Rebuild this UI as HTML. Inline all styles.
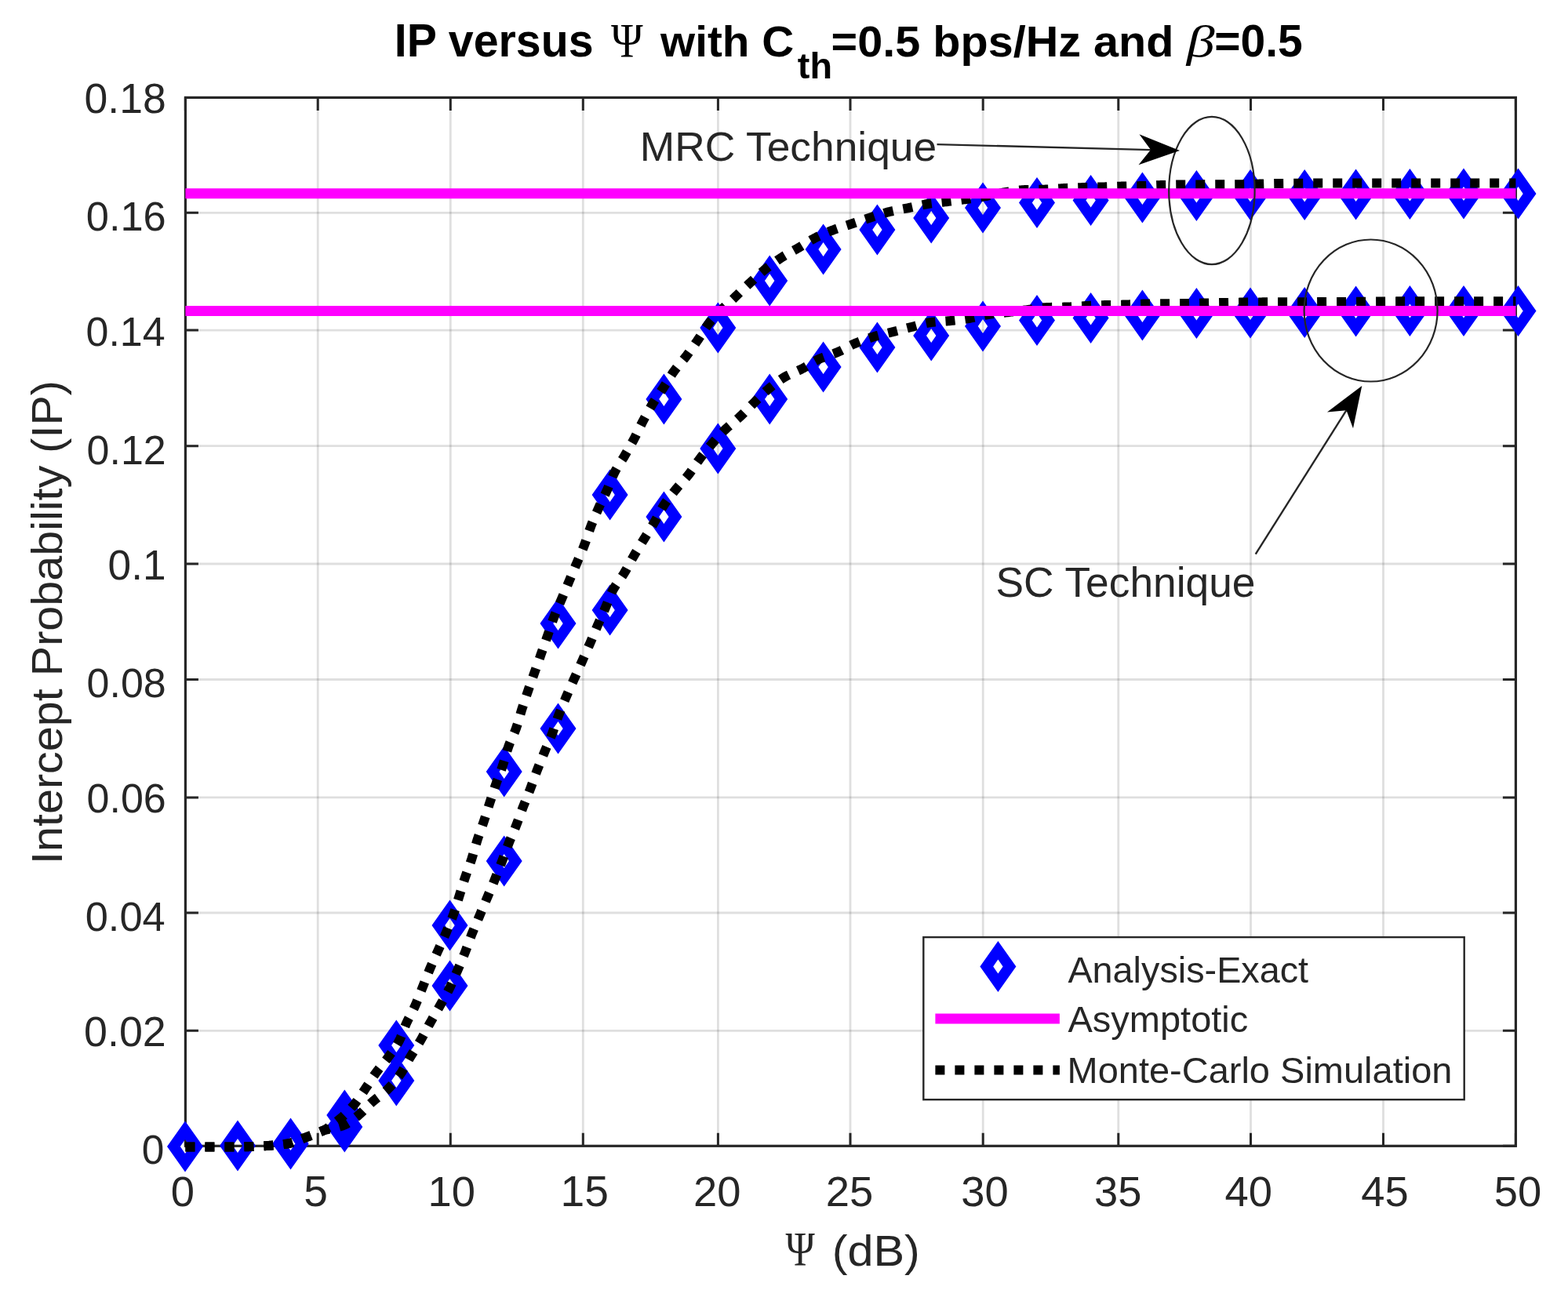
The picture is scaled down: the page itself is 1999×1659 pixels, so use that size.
<!DOCTYPE html><html><head><meta charset="utf-8"><title>IP versus Psi</title><style>html,body{margin:0;padding:0;background:#fff;}svg{display:block;}</style></head><body>
<svg width="1999" height="1659" viewBox="0 0 1999 1659">
<rect width="1999" height="1659" fill="#fff"/>
<path d="M405.2 124.4V1461.3M574.3 124.4V1461.3M743.3 124.4V1461.3M915.4 124.4V1461.3M1084.0 124.4V1461.3M1253.2 124.4V1461.3M1425.8 124.4V1461.3M1594.5 124.4V1461.3M1763.5 124.4V1461.3" stroke="#262626" stroke-opacity="0.15" stroke-width="2.8" fill="none"/>
<path d="M236.4 1314.3H1932.4M236.4 1164.0H1932.4M236.4 1016.9H1932.4M236.4 866.5H1932.4M236.4 719.0H1932.4M236.4 568.7H1932.4M236.4 421.1H1932.4M236.4 271.3H1932.4" stroke="#262626" stroke-opacity="0.15" stroke-width="2.8" fill="none"/>
<path d="M236.4 1461.3V1444.8M236.4 124.4V140.9M405.2 1461.3V1444.8M405.2 124.4V140.9M574.3 1461.3V1444.8M574.3 124.4V140.9M743.3 1461.3V1444.8M743.3 124.4V140.9M915.4 1461.3V1444.8M915.4 124.4V140.9M1084.0 1461.3V1444.8M1084.0 124.4V140.9M1253.2 1461.3V1444.8M1253.2 124.4V140.9M1425.8 1461.3V1444.8M1425.8 124.4V140.9M1594.5 1461.3V1444.8M1594.5 124.4V140.9M1763.5 1461.3V1444.8M1763.5 124.4V140.9M1932.4 1461.3V1444.8M1932.4 124.4V140.9M236.4 1461.3H252.9M1932.4 1461.3H1915.9M236.4 1314.3H252.9M1932.4 1314.3H1915.9M236.4 1164.0H252.9M1932.4 1164.0H1915.9M236.4 1016.9H252.9M1932.4 1016.9H1915.9M236.4 866.5H252.9M1932.4 866.5H1915.9M236.4 719.0H252.9M1932.4 719.0H1915.9M236.4 568.7H252.9M1932.4 568.7H1915.9M236.4 421.1H252.9M1932.4 421.1H1915.9M236.4 271.3H252.9M1932.4 271.3H1915.9M236.4 124.4H252.9M1932.4 124.4H1915.9" stroke="#262626" stroke-width="3" fill="none"/>
<rect x="236.4" y="124.4" width="1696.0" height="1336.9" stroke="#262626" stroke-width="3.2" fill="none"/>
<path d="M236.0 1429.5L259.0 1462.0L236.0 1494.5L213.0 1462.0ZM236.0 1453.0L229.8 1462.0L236.0 1471.0L242.2 1462.0ZM303.0 1428.5L326.0 1461.0L303.0 1493.5L280.0 1461.0ZM303.0 1452.0L296.8 1461.0L303.0 1470.0L309.2 1461.0ZM370.5 1426.5L393.5 1459.0L370.5 1491.5L347.5 1459.0ZM370.5 1450.0L364.3 1459.0L370.5 1468.0L376.7 1459.0ZM439.3 1404.5L462.3 1437.0L439.3 1469.5L416.3 1437.0ZM439.3 1428.0L433.1 1437.0L439.3 1446.0L445.5 1437.0ZM505.3 1345.5L528.3 1378.0L505.3 1410.5L482.3 1378.0ZM505.3 1369.0L499.1 1378.0L505.3 1387.0L511.5 1378.0ZM573.5 1224.5L596.5 1257.0L573.5 1289.5L550.5 1257.0ZM573.5 1248.0L567.3 1257.0L573.5 1266.0L579.7 1257.0ZM642.7 1065.5L665.7 1098.0L642.7 1130.5L619.7 1098.0ZM642.7 1089.0L636.5 1098.0L642.7 1107.0L648.9 1098.0ZM711.5 896.5L734.5 929.0L711.5 961.5L688.5 929.0ZM711.5 920.0L705.3 929.0L711.5 938.0L717.7 929.0ZM777.6 745.5L800.6 778.0L777.6 810.5L754.6 778.0ZM777.6 769.0L771.4 778.0L777.6 787.0L783.8 778.0ZM846.4 626.5L869.4 659.0L846.4 691.5L823.4 659.0ZM846.4 650.0L840.2 659.0L846.4 668.0L852.6 659.0ZM915.3 539.5L938.3 572.0L915.3 604.5L892.3 572.0ZM915.3 563.0L909.1 572.0L915.3 581.0L921.5 572.0ZM981.2 476.5L1004.2 509.0L981.2 541.5L958.2 509.0ZM981.2 500.0L975.0 509.0L981.2 518.0L987.4 509.0ZM1049.6 435.5L1072.6 468.0L1049.6 500.5L1026.6 468.0ZM1049.6 459.0L1043.4 468.0L1049.6 477.0L1055.8 468.0ZM1118.4 410.5L1141.4 443.0L1118.4 475.5L1095.4 443.0ZM1118.4 434.0L1112.2 443.0L1118.4 452.0L1124.6 443.0ZM1187.2 395.5L1210.2 428.0L1187.2 460.5L1164.2 428.0ZM1187.2 419.0L1181.0 428.0L1187.2 437.0L1193.4 428.0ZM1253.0 383.5L1276.0 416.0L1253.0 448.5L1230.0 416.0ZM1253.0 407.0L1246.8 416.0L1253.0 425.0L1259.2 416.0ZM1322.0 376.0L1345.0 408.5L1322.0 441.0L1299.0 408.5ZM1322.0 399.5L1315.8 408.5L1322.0 417.5L1328.2 408.5ZM1390.6 373.0L1413.6 405.5L1390.6 438.0L1367.6 405.5ZM1390.6 396.5L1384.4 405.5L1390.6 414.5L1396.8 405.5ZM1456.4 369.5L1479.4 402.0L1456.4 434.5L1433.4 402.0ZM1456.4 393.0L1450.2 402.0L1456.4 411.0L1462.6 402.0ZM1525.4 367.0L1548.4 399.5L1525.4 432.0L1502.4 399.5ZM1525.4 390.5L1519.2 399.5L1525.4 408.5L1531.6 399.5ZM1594.0 366.5L1617.0 399.0L1594.0 431.5L1571.0 399.0ZM1594.0 390.0L1587.8 399.0L1594.0 408.0L1600.2 399.0ZM1663.2 366.0L1686.2 398.5L1663.2 431.0L1640.2 398.5ZM1663.2 389.5L1657.0 398.5L1663.2 407.5L1669.4 398.5ZM1728.6 364.5L1751.6 397.0L1728.6 429.5L1705.6 397.0ZM1728.6 388.0L1722.4 397.0L1728.6 406.0L1734.8 397.0ZM1797.4 364.0L1820.4 396.5L1797.4 429.0L1774.4 396.5ZM1797.4 387.5L1791.2 396.5L1797.4 405.5L1803.6 396.5ZM1866.0 364.0L1889.0 396.5L1866.0 429.0L1843.0 396.5ZM1866.0 387.5L1859.8 396.5L1866.0 405.5L1872.2 396.5ZM1935.5 364.0L1958.5 396.5L1935.5 429.0L1912.5 396.5ZM1935.5 387.5L1929.3 396.5L1935.5 405.5L1941.7 396.5ZM236.0 1429.5L259.0 1462.0L236.0 1494.5L213.0 1462.0ZM236.0 1453.0L229.8 1462.0L236.0 1471.0L242.2 1462.0ZM303.0 1428.5L326.0 1461.0L303.0 1493.5L280.0 1461.0ZM303.0 1452.0L296.8 1461.0L303.0 1470.0L309.2 1461.0ZM370.5 1425.5L393.5 1458.0L370.5 1490.5L347.5 1458.0ZM370.5 1449.0L364.3 1458.0L370.5 1467.0L376.7 1458.0ZM439.3 1389.5L462.3 1422.0L439.3 1454.5L416.3 1422.0ZM439.3 1413.0L433.1 1422.0L439.3 1431.0L445.5 1422.0ZM505.3 1300.5L528.3 1333.0L505.3 1365.5L482.3 1333.0ZM505.3 1324.0L499.1 1333.0L505.3 1342.0L511.5 1333.0ZM573.5 1147.5L596.5 1180.0L573.5 1212.5L550.5 1180.0ZM573.5 1171.0L567.3 1180.0L573.5 1189.0L579.7 1180.0ZM642.7 951.5L665.7 984.0L642.7 1016.5L619.7 984.0ZM642.7 975.0L636.5 984.0L642.7 993.0L648.9 984.0ZM711.5 762.5L734.5 795.0L711.5 827.5L688.5 795.0ZM711.5 786.0L705.3 795.0L711.5 804.0L717.7 795.0ZM777.6 598.5L800.6 631.0L777.6 663.5L754.6 631.0ZM777.6 622.0L771.4 631.0L777.6 640.0L783.8 631.0ZM846.4 476.5L869.4 509.0L846.4 541.5L823.4 509.0ZM846.4 500.0L840.2 509.0L846.4 518.0L852.6 509.0ZM915.3 385.5L938.3 418.0L915.3 450.5L892.3 418.0ZM915.3 409.0L909.1 418.0L915.3 427.0L921.5 418.0ZM981.2 325.5L1004.2 358.0L981.2 390.5L958.2 358.0ZM981.2 349.0L975.0 358.0L981.2 367.0L987.4 358.0ZM1049.6 285.5L1072.6 318.0L1049.6 350.5L1026.6 318.0ZM1049.6 309.0L1043.4 318.0L1049.6 327.0L1055.8 318.0ZM1118.4 260.5L1141.4 293.0L1118.4 325.5L1095.4 293.0ZM1118.4 284.0L1112.2 293.0L1118.4 302.0L1124.6 293.0ZM1187.2 245.5L1210.2 278.0L1187.2 310.5L1164.2 278.0ZM1187.2 269.0L1181.0 278.0L1187.2 287.0L1193.4 278.0ZM1253.0 232.5L1276.0 265.0L1253.0 297.5L1230.0 265.0ZM1253.0 256.0L1246.8 265.0L1253.0 274.0L1259.2 265.0ZM1322.0 226.0L1345.0 258.5L1322.0 291.0L1299.0 258.5ZM1322.0 249.5L1315.8 258.5L1322.0 267.5L1328.2 258.5ZM1390.6 223.0L1413.6 255.5L1390.6 288.0L1367.6 255.5ZM1390.6 246.5L1384.4 255.5L1390.6 264.5L1396.8 255.5ZM1456.4 219.5L1479.4 252.0L1456.4 284.5L1433.4 252.0ZM1456.4 243.0L1450.2 252.0L1456.4 261.0L1462.6 252.0ZM1525.4 217.0L1548.4 249.5L1525.4 282.0L1502.4 249.5ZM1525.4 240.5L1519.2 249.5L1525.4 258.5L1531.6 249.5ZM1594.0 216.0L1617.0 248.5L1594.0 281.0L1571.0 248.5ZM1594.0 239.5L1587.8 248.5L1594.0 257.5L1600.2 248.5ZM1663.2 216.0L1686.2 248.5L1663.2 281.0L1640.2 248.5ZM1663.2 239.5L1657.0 248.5L1663.2 257.5L1669.4 248.5ZM1728.6 215.5L1751.6 248.0L1728.6 280.5L1705.6 248.0ZM1728.6 239.0L1722.4 248.0L1728.6 257.0L1734.8 248.0ZM1797.4 215.0L1820.4 247.5L1797.4 280.0L1774.4 247.5ZM1797.4 238.5L1791.2 247.5L1797.4 256.5L1803.6 247.5ZM1866.0 214.5L1889.0 247.0L1866.0 279.5L1843.0 247.0ZM1866.0 238.0L1859.8 247.0L1866.0 256.0L1872.2 247.0ZM1935.5 214.5L1958.5 247.0L1935.5 279.5L1912.5 247.0ZM1935.5 238.0L1929.3 247.0L1935.5 256.0L1941.7 247.0Z" fill="#0000ff" />
<g>
<path d="M236.40 1462.50L237.91 1462.50L239.43 1462.50L240.94 1462.50L242.46 1462.50L243.97 1462.50L245.49 1462.50L247.00 1462.50L248.51 1462.50L250.03 1462.50L251.54 1462.50L253.06 1462.50L254.57 1462.50L256.09 1462.50L257.60 1462.50L259.11 1462.50L260.63 1462.50L262.14 1462.50L263.66 1462.50L265.17 1462.50L266.69 1462.50L268.20 1462.50L269.71 1462.50L271.23 1462.50L272.74 1462.50L274.26 1462.50L275.77 1462.50L277.29 1462.50L278.80 1462.50L280.31 1462.50L281.83 1462.50L283.34 1462.50L284.86 1462.50L286.37 1462.50L287.89 1462.50L289.40 1462.50L290.91 1462.50L292.43 1462.50L293.94 1462.50L295.46 1462.50L296.97 1462.50L298.49 1462.50L300.00 1462.50L301.52 1462.50L303.04 1462.49L304.56 1462.47L306.07 1462.45L307.59 1462.43L309.11 1462.40L310.63 1462.36L312.15 1462.32L313.67 1462.28L315.19 1462.23L316.70 1462.18L318.22 1462.12L319.74 1462.07L321.26 1462.00L322.78 1461.94L324.30 1461.87L325.81 1461.80L327.33 1461.73L328.85 1461.65L330.37 1461.57L331.89 1461.50L333.41 1461.42L334.93 1461.33L336.44 1461.25L337.96 1461.17L339.48 1461.08L341.00 1461.00L342.56 1460.91L344.12 1460.81L345.69 1460.71L347.25 1460.60L348.81 1460.48L350.38 1460.35L351.94 1460.21L353.50 1460.06L355.06 1459.90L356.62 1459.74L358.19 1459.56L359.75 1459.37L361.31 1459.17L362.88 1458.96L364.44 1458.74L366.00 1458.50L367.57 1458.22L369.15 1457.88L370.72 1457.47L372.29 1457.02L373.87 1456.52L375.44 1455.98L377.01 1455.41L378.59 1454.82L380.16 1454.20L381.73 1453.58L383.31 1452.94L384.88 1452.31L386.45 1451.69L388.03 1451.09L389.60 1450.50L391.20 1449.90L392.80 1449.28L394.40 1448.63L396.00 1447.97L397.60 1447.31L399.20 1446.63L400.80 1445.96L402.40 1445.29L404.00 1444.63L405.60 1443.99L407.20 1443.37L408.80 1442.78L410.40 1442.22L412.00 1441.70L413.53 1441.24L415.06 1440.82L416.59 1440.43L418.12 1440.06L419.65 1439.72L421.18 1439.38L422.71 1439.06L424.24 1438.74L425.76 1438.41L427.29 1438.08L428.82 1437.73L430.35 1437.36L431.88 1436.96L433.41 1436.53L434.94 1436.07L436.47 1435.56L438.00 1435.00L439.50 1434.37L441.00 1433.64L442.50 1432.82L444.00 1431.92L445.50 1430.95L447.00 1429.91L448.50 1428.83L450.00 1427.70L451.50 1426.54L453.00 1425.37L454.50 1424.18L456.00 1423.00L457.54 1421.73L459.08 1420.37L460.62 1418.94L462.17 1417.44L463.71 1415.89L465.25 1414.32L466.79 1412.73L468.33 1411.15L469.88 1409.59L471.42 1408.07L472.96 1406.60L474.50 1405.20L476.10 1403.83L477.70 1402.52L479.30 1401.26L480.90 1400.03L482.50 1398.82L484.10 1397.61L485.70 1396.39L487.30 1395.15L488.90 1393.86L490.50 1392.52L492.10 1391.10L493.70 1389.60L495.23 1388.09L496.75 1386.52L498.28 1384.89L499.81 1383.20L501.34 1381.45L502.86 1379.64L504.39 1377.76L505.92 1375.82L507.45 1373.81L508.97 1371.74L510.50 1369.60L512.06 1367.26L513.62 1364.70L515.19 1362.00L516.75 1359.19L518.31 1356.33L519.88 1353.48L521.44 1350.68L523.00 1348.00L524.62 1345.33L526.25 1342.71L527.88 1340.14L529.50 1337.58L531.12 1335.01L532.75 1332.41L534.38 1329.74L536.00 1327.00L537.50 1324.37L539.00 1321.67L540.50 1318.91L542.00 1316.11L543.50 1313.30L545.00 1310.49L546.50 1307.72L548.00 1305.00L549.50 1302.33L551.00 1299.70L552.50 1297.09L554.00 1294.49L555.50 1291.89L557.00 1289.28L558.50 1286.65L560.00 1284.00L561.54 1281.28L563.08 1278.59L564.61 1275.89L566.15 1273.18L567.69 1270.43L569.22 1267.61L570.76 1264.71L572.30 1261.70L573.86 1258.52L575.41 1255.21L576.97 1251.80L578.53 1248.31L580.09 1244.77L581.64 1241.19L583.20 1237.60L584.80 1233.90L586.40 1230.17L588.00 1226.39L589.60 1222.54L591.20 1218.61L592.80 1214.60L594.50 1210.14L596.20 1205.50L597.90 1200.79L599.60 1196.15L601.30 1191.70L602.90 1187.72L604.50 1183.85L606.10 1180.06L607.70 1176.31L609.30 1172.57L610.90 1168.80L612.52 1164.97L614.13 1161.16L615.75 1157.35L617.37 1153.54L618.98 1149.73L620.60 1145.90L622.20 1142.11L623.80 1138.33L625.40 1134.54L627.00 1130.73L628.60 1126.89L630.20 1123.00L631.80 1119.07L633.40 1115.12L635.00 1111.14L636.60 1107.11L638.20 1103.03L639.80 1098.90L641.50 1094.38L643.20 1089.72L644.90 1085.04L646.60 1080.43L648.30 1076.00L649.90 1072.05L651.50 1068.26L653.10 1064.55L654.70 1060.84L656.30 1057.05L657.90 1053.10L659.60 1048.67L661.30 1044.06L663.00 1039.38L664.70 1034.72L666.40 1030.20L668.00 1026.11L669.60 1022.11L671.20 1018.17L672.80 1014.22L674.40 1010.21L676.00 1006.10L677.68 1001.60L679.36 996.97L681.04 992.30L682.72 987.68L684.40 983.20L686.02 979.04L687.63 974.96L689.25 970.95L690.87 966.98L692.48 963.03L694.10 959.10L695.70 955.28L697.30 951.55L698.90 947.84L700.50 944.10L702.10 940.24L703.70 936.20L705.40 931.58L707.10 926.66L708.80 921.64L710.50 916.72L712.20 912.10L713.73 908.19L715.25 904.35L716.78 900.59L718.30 896.89L719.83 893.25L721.35 889.67L722.88 886.13L724.40 882.64L725.93 879.18L727.45 875.75L728.98 872.35L730.50 868.96L732.03 865.59L733.55 862.22L735.08 858.85L736.60 855.48L738.12 852.09L739.65 848.69L741.18 845.26L742.70 841.80L744.30 838.17L745.90 834.58L747.50 830.99L749.10 827.39L750.70 823.77L752.30 820.10L753.92 816.33L755.53 812.50L757.15 808.65L758.77 804.80L760.38 800.97L762.00 797.20L763.60 793.54L765.20 789.93L766.80 786.35L768.40 782.77L770.00 779.16L771.60 775.50L773.22 771.63L774.83 767.59L776.45 763.51L778.07 759.56L779.68 755.87L781.30 752.60L782.90 749.76L784.50 747.16L786.10 744.74L787.70 742.46L789.30 740.24L790.90 738.04L792.50 735.78L794.10 733.42L795.70 730.90L797.21 728.35L798.73 725.69L800.24 722.95L801.75 720.16L803.26 717.36L804.77 714.58L806.29 711.85L807.80 709.20L809.45 706.39L811.10 703.64L812.75 700.92L814.40 698.22L816.05 695.54L817.70 692.87L819.35 690.19L821.00 687.50L822.66 684.79L824.33 682.11L825.99 679.44L827.65 676.77L829.31 674.08L830.97 671.37L832.64 668.61L834.30 665.80L835.81 663.14L837.32 660.37L838.84 657.53L840.35 654.67L841.86 651.85L843.38 649.12L844.89 646.52L846.40 644.10L847.96 641.77L849.52 639.53L851.08 637.38L852.64 635.29L854.20 633.27L855.76 631.29L857.32 629.34L858.88 627.42L860.44 625.51L862.00 623.60L863.57 621.71L865.14 619.89L866.71 618.11L868.28 616.37L869.85 614.64L871.42 612.90L872.99 611.13L874.56 609.32L876.13 607.45L877.70 605.50L879.31 603.39L880.92 601.17L882.53 598.87L884.14 596.52L885.76 594.14L887.37 591.78L888.98 589.44L890.59 587.18L892.20 585.00L893.77 582.95L895.34 580.92L896.91 578.93L898.48 576.96L900.05 575.02L901.62 573.11L903.19 571.22L904.76 569.36L906.33 567.52L907.90 565.70L909.43 563.95L910.95 562.21L912.48 560.49L914.01 558.78L915.54 557.10L917.06 555.44L918.59 553.80L920.12 552.20L921.65 550.63L923.17 549.09L924.70 547.60L926.31 546.08L927.92 544.62L929.53 543.20L931.13 541.82L932.74 540.46L934.35 539.12L935.96 537.78L937.57 536.44L939.17 535.08L940.78 533.69L942.39 532.27L944.00 530.80L945.51 529.37L947.02 527.91L948.52 526.42L950.03 524.91L951.54 523.38L953.05 521.83L954.56 520.29L956.07 518.74L957.58 517.20L959.08 515.68L960.59 514.18L962.10 512.70L963.71 511.14L965.32 509.56L966.92 507.99L968.53 506.41L970.14 504.85L971.75 503.29L973.36 501.76L974.97 500.26L976.58 498.78L978.18 497.34L979.79 495.95L981.40 494.60L982.95 493.33L984.50 492.08L986.05 490.84L987.60 489.61L989.15 488.42L990.70 487.25L992.25 486.11L993.80 485.00L995.35 483.93L996.90 482.91L998.45 481.93L1000.00 481.00L1001.53 480.13L1003.07 479.31L1004.60 478.52L1006.13 477.77L1007.67 477.05L1009.20 476.35L1010.73 475.66L1012.27 474.99L1013.80 474.31L1015.33 473.64L1016.87 472.95L1018.40 472.25L1019.93 471.53L1021.47 470.78L1023.00 470.00L1024.50 469.20L1026.00 468.35L1027.50 467.48L1029.00 466.58L1030.50 465.67L1032.00 464.75L1033.50 463.83L1035.00 462.91L1036.50 462.01L1038.00 461.13L1039.50 460.29L1041.00 459.48L1042.50 458.71L1044.00 458.00L1045.50 457.34L1047.00 456.71L1048.50 456.11L1050.00 455.54L1051.50 454.99L1053.00 454.46L1054.50 453.94L1056.00 453.42L1057.50 452.91L1059.00 452.40L1060.50 451.88L1062.00 451.34L1063.50 450.79L1065.00 450.22L1066.50 449.63L1068.00 449.00L1069.57 448.30L1071.14 447.56L1072.71 446.78L1074.29 445.98L1075.86 445.16L1077.43 444.32L1079.00 443.47L1080.57 442.63L1082.14 441.80L1083.71 440.98L1085.29 440.18L1086.86 439.41L1088.43 438.68L1090.00 438.00L1091.56 437.35L1093.12 436.71L1094.69 436.08L1096.25 435.46L1097.81 434.86L1099.38 434.26L1100.94 433.68L1102.50 433.11L1104.06 432.55L1105.62 432.00L1107.19 431.47L1108.75 430.95L1110.31 430.44L1111.88 429.95L1113.44 429.47L1115.00 429.00L1116.50 428.57L1118.00 428.15L1119.50 427.75L1121.00 427.36L1122.50 426.98L1124.00 426.60L1125.50 426.24L1127.00 425.88L1128.50 425.53L1130.00 425.17L1131.50 424.82L1133.00 424.47L1134.50 424.11L1136.00 423.75L1137.50 423.38L1139.00 423.00L1140.53 422.61L1142.07 422.21L1143.60 421.81L1145.13 421.41L1146.67 421.00L1148.20 420.59L1149.73 420.19L1151.27 419.78L1152.80 419.38L1154.33 418.97L1155.87 418.57L1157.40 418.17L1158.93 417.78L1160.47 417.39L1162.00 417.00L1163.56 416.60L1165.12 416.18L1166.69 415.76L1168.25 415.32L1169.81 414.89L1171.38 414.45L1172.94 414.02L1174.50 413.59L1176.06 413.18L1177.62 412.79L1179.19 412.41L1180.75 412.07L1182.31 411.75L1183.88 411.46L1185.44 411.21L1187.00 411.00L1188.56 410.82L1190.12 410.66L1191.69 410.52L1193.25 410.38L1194.81 410.26L1196.38 410.15L1197.94 410.04L1199.50 409.94L1201.06 409.83L1202.62 409.73L1204.19 409.63L1205.75 409.52L1207.31 409.41L1208.88 409.28L1210.44 409.15L1212.00 409.00L1213.53 408.84L1215.07 408.68L1216.60 408.51L1218.13 408.33L1219.67 408.15L1221.20 407.96L1222.73 407.77L1224.27 407.57L1225.80 407.36L1227.33 407.14L1228.87 406.93L1230.40 406.70L1231.93 406.47L1233.47 406.24L1235.00 406.00L1236.56 405.74L1238.12 405.46L1239.69 405.16L1241.25 404.84L1242.81 404.51L1244.38 404.16L1245.94 403.82L1247.50 403.47L1249.06 403.12L1250.62 402.77L1252.19 402.44L1253.75 402.11L1255.31 401.80L1256.88 401.51L1258.44 401.24L1260.00 401.00L1261.53 400.78L1263.06 400.57L1264.59 400.37L1266.12 400.18L1267.65 400.00L1269.18 399.83L1270.71 399.65L1272.24 399.49L1273.76 399.32L1275.29 399.16L1276.82 399.00L1278.35 398.84L1279.88 398.68L1281.41 398.52L1282.94 398.35L1284.47 398.18L1286.00 398.00L1287.56 397.82L1289.12 397.63L1290.69 397.44L1292.25 397.26L1293.81 397.07L1295.38 396.88L1296.94 396.70L1298.50 396.51L1300.06 396.32L1301.62 396.13L1303.19 395.94L1304.75 395.75L1306.31 395.56L1307.88 395.38L1309.44 395.19L1311.00 395.00L1312.56 394.80L1314.12 394.60L1315.69 394.38L1317.25 394.15L1318.81 393.92L1320.38 393.69L1321.94 393.46L1323.50 393.23L1325.06 393.02L1326.62 392.81L1328.19 392.62L1329.75 392.45L1331.31 392.30L1332.88 392.17L1334.44 392.07L1336.00 392.00L1337.56 391.95L1339.12 391.91L1340.69 391.87L1342.25 391.84L1343.81 391.81L1345.38 391.78L1346.94 391.76L1348.50 391.74L1350.06 391.71L1351.62 391.69L1353.19 391.67L1354.75 391.64L1356.31 391.61L1357.88 391.58L1359.44 391.54L1361.00 391.50L1362.56 391.45L1364.12 391.38L1365.69 391.30L1367.25 391.22L1368.81 391.12L1370.38 391.02L1371.94 390.92L1373.50 390.81L1375.06 390.70L1376.62 390.58L1378.19 390.47L1379.75 390.37L1381.31 390.27L1382.88 390.17L1384.44 390.08L1386.00 390.00L1387.56 389.93L1389.12 389.85L1390.69 389.78L1392.25 389.71L1393.81 389.64L1395.38 389.57L1396.94 389.50L1398.50 389.43L1400.06 389.37L1401.62 389.31L1403.19 389.25L1404.75 389.19L1406.31 389.14L1407.88 389.09L1409.44 389.04L1411.00 389.00L1412.56 388.96L1414.12 388.92L1415.69 388.89L1417.25 388.86L1418.81 388.83L1420.38 388.80L1421.94 388.78L1423.50 388.75L1425.06 388.73L1426.62 388.70L1428.19 388.67L1429.75 388.64L1431.31 388.61L1432.88 388.58L1434.44 388.54L1436.00 388.50L1437.50 388.45L1439.00 388.40L1440.50 388.34L1442.00 388.27L1443.50 388.20L1445.00 388.13L1446.50 388.05L1448.00 387.97L1449.50 387.89L1451.00 387.82L1452.50 387.75L1454.00 387.68L1455.50 387.63L1457.00 387.57L1458.50 387.53L1460.00 387.50L1461.52 387.47L1463.03 387.45L1464.55 387.43L1466.06 387.41L1467.58 387.39L1469.09 387.37L1470.61 387.35L1472.12 387.33L1473.64 387.32L1475.15 387.30L1476.67 387.29L1478.18 387.28L1479.70 387.27L1481.21 387.25L1482.73 387.24L1484.24 387.23L1485.76 387.22L1487.27 387.21L1488.79 387.20L1490.30 387.19L1491.82 387.18L1493.33 387.16L1494.85 387.15L1496.36 387.14L1497.88 387.13L1499.39 387.11L1500.91 387.10L1502.42 387.09L1503.94 387.07L1505.45 387.06L1506.97 387.04L1508.48 387.02L1510.00 387.00L1511.52 386.98L1513.03 386.96L1514.55 386.93L1516.06 386.91L1517.58 386.88L1519.09 386.86L1520.61 386.83L1522.12 386.80L1523.64 386.77L1525.15 386.74L1526.67 386.71L1528.18 386.68L1529.70 386.65L1531.21 386.61L1532.73 386.58L1534.24 386.55L1535.76 386.51L1537.27 386.48L1538.79 386.45L1540.30 386.41L1541.82 386.38L1543.33 386.34L1544.85 386.31L1546.36 386.28L1547.88 386.24L1549.39 386.21L1550.91 386.18L1552.42 386.15L1553.94 386.12L1555.45 386.09L1556.97 386.06L1558.48 386.03L1560.00 386.00L1561.50 385.97L1563.00 385.94L1564.50 385.92L1566.00 385.89L1567.50 385.86L1569.00 385.83L1570.50 385.80L1572.00 385.77L1573.50 385.74L1575.00 385.71L1576.50 385.69L1578.00 385.66L1579.50 385.63L1581.00 385.61L1582.50 385.59L1584.00 385.57L1585.50 385.55L1587.00 385.53L1588.50 385.51L1590.00 385.50L1591.51 385.49L1593.01 385.48L1594.52 385.47L1596.03 385.45L1597.53 385.44L1599.04 385.43L1600.55 385.42L1602.05 385.41L1603.56 385.40L1605.07 385.39L1606.58 385.39L1608.08 385.38L1609.59 385.37L1611.10 385.36L1612.60 385.35L1614.11 385.34L1615.62 385.34L1617.12 385.33L1618.63 385.32L1620.14 385.31L1621.64 385.31L1623.15 385.30L1624.66 385.29L1626.16 385.29L1627.67 385.28L1629.18 385.27L1630.68 385.27L1632.19 385.26L1633.70 385.26L1635.21 385.25L1636.71 385.25L1638.22 385.24L1639.73 385.23L1641.23 385.23L1642.74 385.22L1644.25 385.22L1645.75 385.21L1647.26 385.21L1648.77 385.20L1650.27 385.20L1651.78 385.19L1653.29 385.19L1654.79 385.18L1656.30 385.18L1657.81 385.17L1659.32 385.17L1660.82 385.16L1662.33 385.16L1663.84 385.15L1665.34 385.15L1666.85 385.14L1668.36 385.14L1669.86 385.13L1671.37 385.13L1672.88 385.12L1674.38 385.12L1675.89 385.11L1677.40 385.10L1678.90 385.10L1680.41 385.09L1681.92 385.09L1683.42 385.08L1684.93 385.07L1686.44 385.07L1687.95 385.06L1689.45 385.05L1690.96 385.05L1692.47 385.04L1693.97 385.03L1695.48 385.02L1696.99 385.02L1698.49 385.01L1700.00 385.00L1701.52 384.99L1703.03 384.98L1704.55 384.97L1706.06 384.96L1707.58 384.95L1709.09 384.94L1710.61 384.93L1712.12 384.92L1713.64 384.91L1715.15 384.90L1716.67 384.89L1718.18 384.88L1719.70 384.86L1721.21 384.85L1722.73 384.84L1724.24 384.83L1725.76 384.81L1727.27 384.80L1728.79 384.79L1730.30 384.77L1731.82 384.76L1733.33 384.75L1734.85 384.73L1736.36 384.72L1737.88 384.71L1739.39 384.69L1740.91 384.68L1742.42 384.67L1743.94 384.65L1745.45 384.64L1746.97 384.63L1748.48 384.61L1750.00 384.60L1751.52 384.59L1753.03 384.57L1754.55 384.56L1756.06 384.55L1757.58 384.53L1759.09 384.52L1760.61 384.51L1762.12 384.50L1763.64 384.48L1765.15 384.47L1766.67 384.46L1768.18 384.45L1769.70 384.44L1771.21 384.43L1772.73 384.42L1774.24 384.41L1775.76 384.40L1777.27 384.39L1778.79 384.38L1780.30 384.37L1781.82 384.36L1783.33 384.36L1784.85 384.35L1786.36 384.34L1787.88 384.33L1789.39 384.33L1790.91 384.32L1792.42 384.32L1793.94 384.31L1795.45 384.31L1796.97 384.31L1798.48 384.30L1800.00 384.30L1801.50 384.30L1803.01 384.30L1804.51 384.29L1806.02 384.29L1807.52 384.29L1809.03 384.29L1810.53 384.29L1812.04 384.28L1813.54 384.28L1815.05 384.28L1816.55 384.28L1818.05 384.28L1819.56 384.28L1821.06 384.27L1822.57 384.27L1824.07 384.27L1825.58 384.27L1827.08 384.27L1828.59 384.27L1830.09 384.27L1831.60 384.26L1833.10 384.26L1834.60 384.26L1836.11 384.26L1837.61 384.26L1839.12 384.26L1840.62 384.26L1842.13 384.26L1843.63 384.25L1845.14 384.25L1846.64 384.25L1848.15 384.25L1849.65 384.25L1851.15 384.25L1852.66 384.25L1854.16 384.25L1855.67 384.25L1857.17 384.24L1858.68 384.24L1860.18 384.24L1861.69 384.24L1863.19 384.24L1864.70 384.24L1866.20 384.24L1867.70 384.24L1869.21 384.24L1870.71 384.24L1872.22 384.24L1873.72 384.23L1875.23 384.23L1876.73 384.23L1878.24 384.23L1879.74 384.23L1881.25 384.23L1882.75 384.23L1884.25 384.23L1885.76 384.23L1887.26 384.23L1888.77 384.23L1890.27 384.23L1891.78 384.22L1893.28 384.22L1894.79 384.22L1896.29 384.22L1897.80 384.22L1899.30 384.22L1900.80 384.22L1902.31 384.22L1903.81 384.22L1905.32 384.22L1906.82 384.22L1908.33 384.22L1909.83 384.21L1911.34 384.21L1912.84 384.21L1914.35 384.21L1915.85 384.21L1917.35 384.21L1918.86 384.21L1920.36 384.21L1921.87 384.21L1923.37 384.21L1924.88 384.21L1926.38 384.20L1927.89 384.20L1929.39 384.20L1930.90 384.20L1932.40 384.20" stroke="#000" stroke-width="12" stroke-dasharray="12 13" fill="none"/>
<path d="M236.40 1462.50L237.91 1462.50L239.43 1462.50L240.94 1462.50L242.46 1462.50L243.97 1462.50L245.49 1462.50L247.00 1462.50L248.51 1462.50L250.03 1462.50L251.54 1462.50L253.06 1462.50L254.57 1462.50L256.09 1462.50L257.60 1462.50L259.11 1462.50L260.63 1462.50L262.14 1462.50L263.66 1462.50L265.17 1462.50L266.69 1462.50L268.20 1462.50L269.71 1462.50L271.23 1462.50L272.74 1462.50L274.26 1462.50L275.77 1462.50L277.29 1462.50L278.80 1462.50L280.31 1462.50L281.83 1462.50L283.34 1462.50L284.86 1462.50L286.37 1462.50L287.89 1462.50L289.40 1462.50L290.91 1462.50L292.43 1462.50L293.94 1462.50L295.46 1462.50L296.97 1462.50L298.49 1462.50L300.00 1462.50L301.52 1462.50L303.04 1462.49L304.56 1462.47L306.07 1462.45L307.59 1462.43L309.11 1462.40L310.63 1462.36L312.15 1462.32L313.67 1462.28L315.19 1462.23L316.70 1462.18L318.22 1462.12L319.74 1462.07L321.26 1462.00L322.78 1461.94L324.30 1461.87L325.81 1461.80L327.33 1461.73L328.85 1461.65L330.37 1461.57L331.89 1461.50L333.41 1461.42L334.93 1461.33L336.44 1461.25L337.96 1461.17L339.48 1461.08L341.00 1461.00L342.56 1460.91L344.12 1460.81L345.69 1460.71L347.25 1460.60L348.81 1460.48L350.38 1460.35L351.94 1460.21L353.50 1460.06L355.06 1459.90L356.62 1459.74L358.19 1459.56L359.75 1459.37L361.31 1459.17L362.88 1458.96L364.44 1458.74L366.00 1458.50L367.57 1458.22L369.15 1457.88L370.72 1457.47L372.29 1457.02L373.87 1456.52L375.44 1455.98L377.01 1455.41L378.59 1454.82L380.16 1454.20L381.73 1453.58L383.31 1452.94L384.88 1452.31L386.45 1451.69L388.03 1451.09L389.60 1450.50L391.20 1449.92L392.80 1449.35L394.40 1448.79L396.00 1448.22L397.60 1447.65L399.20 1447.07L400.80 1446.49L402.40 1445.88L404.00 1445.26L405.60 1444.61L407.20 1443.93L408.80 1443.22L410.40 1442.48L412.00 1441.70L413.54 1440.90L415.08 1440.05L416.62 1439.14L418.15 1438.19L419.69 1437.20L421.23 1436.16L422.77 1435.08L424.31 1433.97L425.85 1432.83L427.38 1431.66L428.92 1430.46L430.46 1429.24L432.00 1428.00L433.61 1426.67L435.22 1425.29L436.82 1423.86L438.43 1422.39L440.04 1420.86L441.65 1419.28L443.26 1417.66L444.87 1415.99L446.48 1414.26L448.08 1412.49L449.69 1410.67L451.30 1408.80L452.81 1406.95L454.32 1404.98L455.83 1402.91L457.34 1400.76L458.86 1398.56L460.37 1396.32L461.88 1394.07L463.39 1391.82L464.90 1389.60L466.50 1387.24L468.10 1384.82L469.70 1382.37L471.30 1379.90L472.90 1377.43L474.50 1374.99L476.10 1372.59L477.70 1370.25L479.30 1368.00L480.87 1365.88L482.44 1363.84L484.01 1361.86L485.58 1359.92L487.15 1358.00L488.72 1356.08L490.29 1354.14L491.86 1352.16L493.43 1350.12L495.00 1348.00L496.56 1345.87L498.11 1343.77L499.67 1341.66L501.22 1339.50L502.78 1337.27L504.33 1334.94L505.89 1332.47L507.44 1329.83L509.00 1327.00L510.50 1323.86L512.00 1320.25L513.50 1316.35L515.00 1312.39L516.50 1308.53L518.00 1305.00L519.57 1301.66L521.14 1298.52L522.71 1295.50L524.29 1292.52L525.86 1289.50L527.43 1286.35L529.00 1283.00L530.60 1279.34L532.20 1275.48L533.80 1271.49L535.40 1267.42L537.00 1263.34L538.60 1259.30L540.20 1255.26L541.80 1251.16L543.40 1247.05L545.00 1242.97L546.60 1238.97L548.20 1235.10L549.82 1231.33L551.43 1227.67L553.05 1224.08L554.67 1220.53L556.28 1216.98L557.90 1213.40L559.44 1209.98L560.99 1206.59L562.53 1203.21L564.07 1199.81L565.61 1196.38L567.16 1192.88L568.70 1189.30L570.32 1185.50L571.93 1181.69L573.55 1177.80L575.17 1173.79L576.78 1169.61L578.40 1165.20L580.20 1159.85L582.00 1154.09L583.80 1148.15L585.60 1142.30L587.40 1136.51L589.20 1130.69L591.00 1124.94L592.80 1119.40L594.50 1114.46L596.20 1109.75L597.90 1105.10L599.60 1100.34L601.30 1095.30L603.10 1089.46L604.90 1083.27L606.70 1077.06L608.50 1071.20L610.18 1066.17L611.86 1061.39L613.54 1056.72L615.22 1052.00L616.90 1047.10L618.73 1041.49L620.55 1035.72L622.38 1029.91L624.20 1024.20L625.88 1019.03L627.56 1013.88L629.24 1008.79L630.92 1003.78L632.60 998.90L634.28 994.25L635.96 989.80L637.64 985.38L639.32 980.84L641.00 976.00L642.83 970.10L644.65 963.71L646.47 957.42L648.30 951.80L649.90 947.62L651.50 943.87L653.10 940.34L654.70 936.82L656.30 933.08L657.90 928.90L659.73 923.34L661.55 917.14L663.38 910.81L665.20 904.80L666.73 900.09L668.25 895.47L669.78 890.91L671.30 886.41L672.83 881.97L674.35 877.58L675.88 873.23L677.40 868.91L678.93 864.61L680.45 860.33L681.98 856.06L683.50 851.80L685.02 847.52L686.55 843.24L688.08 838.93L689.60 834.60L691.30 829.77L693.00 824.96L694.70 820.15L696.40 815.34L698.10 810.50L699.78 805.61L701.46 800.62L703.14 795.66L704.82 790.85L706.50 786.30L708.12 782.22L709.73 778.33L711.35 774.57L712.97 770.88L714.58 767.18L716.20 763.40L717.80 759.59L719.40 755.78L721.00 751.95L722.60 748.12L724.20 744.31L725.80 740.50L727.42 736.67L729.03 732.86L730.65 729.05L732.27 725.24L733.88 721.43L735.50 717.60L737.10 713.85L738.70 710.14L740.30 706.43L741.90 702.66L743.50 698.77L745.10 694.70L746.78 690.08L748.46 685.15L750.14 680.12L751.82 675.20L753.50 670.60L755.12 666.49L756.73 662.54L758.35 658.71L759.97 654.99L761.58 651.32L763.20 647.70L764.74 644.32L766.29 641.05L767.83 637.84L769.37 634.66L770.91 631.45L772.46 628.18L774.00 624.80L775.62 621.03L777.23 617.05L778.85 613.01L780.47 609.04L782.08 605.29L783.70 601.90L785.35 598.81L787.00 595.94L788.65 593.24L790.30 590.65L791.95 588.12L793.60 585.57L795.25 582.95L796.90 580.20L798.41 577.59L799.92 574.96L801.44 572.31L802.95 569.62L804.46 566.90L805.98 564.15L807.49 561.35L809.00 558.50L810.54 555.51L812.09 552.41L813.63 549.24L815.17 546.06L816.71 542.89L818.26 539.79L819.80 536.80L821.31 533.94L822.82 531.11L824.34 528.31L825.85 525.55L827.36 522.85L828.88 520.20L830.39 517.61L831.90 515.10L833.51 512.52L835.12 510.02L836.73 507.60L838.34 505.22L839.96 502.88L841.57 500.54L843.18 498.20L844.79 495.82L846.40 493.40L848.05 490.84L849.70 488.22L851.35 485.56L853.00 482.91L854.65 480.28L856.30 477.72L857.95 475.25L859.60 472.90L861.17 470.79L862.74 468.78L864.31 466.85L865.88 464.97L867.45 463.12L869.02 461.28L870.59 459.43L872.16 457.55L873.73 455.61L875.30 453.60L876.93 451.44L878.57 449.23L880.20 446.98L881.83 444.70L883.47 442.40L885.10 440.07L886.73 437.72L888.37 435.37L890.00 433.00L891.56 430.69L893.11 428.29L894.67 425.83L896.22 423.36L897.78 420.90L899.33 418.51L900.89 416.20L902.44 414.02L904.00 412.00L905.50 410.17L907.00 408.40L908.50 406.67L910.00 404.99L911.50 403.35L913.00 401.75L914.50 400.19L916.00 398.66L917.50 397.15L919.00 395.68L920.50 394.23L922.00 392.79L923.50 391.38L925.00 389.98L926.50 388.59L928.00 387.20L929.50 385.82L931.00 384.44L932.50 383.06L934.00 381.67L935.50 380.27L937.00 378.87L938.50 377.44L940.00 376.00L941.50 374.55L943.00 373.10L944.50 371.67L946.00 370.23L947.50 368.80L949.00 367.38L950.50 365.97L952.00 364.56L953.50 363.16L955.00 361.76L956.50 360.38L958.00 359.00L959.50 357.62L961.00 356.24L962.50 354.85L964.00 353.47L965.50 352.09L967.00 350.73L968.50 349.38L970.00 348.05L971.50 346.74L973.00 345.46L974.50 344.21L976.00 343.00L977.50 341.82L979.00 340.65L980.50 339.50L982.00 338.37L983.50 337.26L985.00 336.16L986.50 335.08L988.00 334.02L989.50 332.97L991.00 331.94L992.50 330.93L994.00 329.94L995.50 328.96L997.00 328.00L998.50 327.06L1000.00 326.15L1001.50 325.26L1003.00 324.39L1004.50 323.53L1006.00 322.69L1007.50 321.86L1009.00 321.03L1010.50 320.21L1012.00 319.38L1013.50 318.55L1015.00 317.71L1016.50 316.86L1018.00 316.00L1019.57 315.08L1021.14 314.13L1022.71 313.17L1024.29 312.20L1025.86 311.23L1027.43 310.25L1029.00 309.28L1030.57 308.32L1032.14 307.37L1033.71 306.44L1035.29 305.53L1036.86 304.65L1038.43 303.81L1040.00 303.00L1041.53 302.24L1043.07 301.49L1044.60 300.76L1046.13 300.04L1047.67 299.34L1049.20 298.65L1050.73 297.98L1052.27 297.31L1053.80 296.66L1055.33 296.03L1056.87 295.40L1058.40 294.78L1059.93 294.18L1061.47 293.58L1063.00 293.00L1064.50 292.44L1066.00 291.90L1067.50 291.37L1069.00 290.85L1070.50 290.34L1072.00 289.84L1073.50 289.35L1075.00 288.87L1076.50 288.39L1078.00 287.91L1079.50 287.43L1081.00 286.95L1082.50 286.47L1084.00 285.99L1085.50 285.50L1087.00 285.00L1088.50 284.50L1090.00 283.99L1091.50 283.49L1093.00 282.98L1094.50 282.48L1096.00 281.97L1097.50 281.46L1099.00 280.95L1100.50 280.45L1102.00 279.95L1103.50 279.45L1105.00 278.95L1106.50 278.45L1108.00 277.96L1109.50 277.48L1111.00 277.00L1112.53 276.51L1114.07 276.01L1115.60 275.51L1117.13 275.01L1118.67 274.51L1120.20 274.02L1121.73 273.53L1123.27 273.04L1124.80 272.56L1126.33 272.10L1127.87 271.64L1129.40 271.21L1130.93 270.79L1132.47 270.38L1134.00 270.00L1135.56 269.63L1137.12 269.28L1138.69 268.94L1140.25 268.61L1141.81 268.29L1143.38 267.98L1144.94 267.68L1146.50 267.38L1148.06 267.09L1149.62 266.80L1151.19 266.51L1152.75 266.22L1154.31 265.92L1155.88 265.62L1157.44 265.31L1159.00 265.00L1160.50 264.69L1162.00 264.37L1163.50 264.04L1165.00 263.70L1166.50 263.36L1168.00 263.02L1169.50 262.68L1171.00 262.35L1172.50 262.01L1174.00 261.69L1175.50 261.37L1177.00 261.07L1178.50 260.77L1180.00 260.50L1181.50 260.24L1183.00 260.00L1184.56 259.77L1186.12 259.55L1187.69 259.34L1189.25 259.14L1190.81 258.95L1192.38 258.76L1193.94 258.58L1195.50 258.41L1197.06 258.23L1198.62 258.06L1200.19 257.89L1201.75 257.72L1203.31 257.55L1204.88 257.37L1206.44 257.19L1208.00 257.00L1209.50 256.82L1211.00 256.64L1212.50 256.46L1214.00 256.28L1215.50 256.10L1217.00 255.92L1218.50 255.74L1220.00 255.55L1221.50 255.37L1223.00 255.18L1224.50 255.00L1226.00 254.80L1227.50 254.61L1229.00 254.41L1230.50 254.21L1232.00 254.00L1233.56 253.78L1235.12 253.55L1236.69 253.32L1238.25 253.09L1239.81 252.85L1241.38 252.60L1242.94 252.36L1244.50 252.11L1246.06 251.85L1247.62 251.60L1249.19 251.34L1250.75 251.07L1252.31 250.81L1253.88 250.54L1255.44 250.27L1257.00 250.00L1258.53 249.73L1260.06 249.44L1261.59 249.14L1263.12 248.84L1264.65 248.53L1266.18 248.21L1267.71 247.89L1269.24 247.57L1270.76 247.25L1272.29 246.94L1273.82 246.63L1275.35 246.33L1276.88 246.04L1278.41 245.75L1279.94 245.49L1281.47 245.23L1283.00 245.00L1284.56 244.77L1286.12 244.53L1287.69 244.29L1289.25 244.05L1290.81 243.81L1292.38 243.57L1293.94 243.35L1295.50 243.13L1297.06 242.92L1298.62 242.73L1300.19 242.55L1301.75 242.40L1303.31 242.26L1304.88 242.15L1306.44 242.06L1308.00 242.00L1309.56 241.96L1311.12 241.92L1312.69 241.89L1314.25 241.87L1315.81 241.85L1317.38 241.83L1318.94 241.81L1320.50 241.79L1322.06 241.78L1323.62 241.76L1325.19 241.74L1326.75 241.72L1328.31 241.70L1329.88 241.67L1331.44 241.64L1333.00 241.60L1334.56 241.55L1336.12 241.49L1337.69 241.41L1339.25 241.32L1340.81 241.22L1342.38 241.11L1343.94 240.99L1345.50 240.87L1347.06 240.75L1348.62 240.63L1350.19 240.51L1351.75 240.39L1353.31 240.28L1354.88 240.18L1356.44 240.08L1358.00 240.00L1359.56 239.92L1361.12 239.85L1362.69 239.78L1364.25 239.71L1365.81 239.64L1367.38 239.57L1368.94 239.50L1370.50 239.44L1372.06 239.38L1373.62 239.32L1375.19 239.26L1376.75 239.20L1378.31 239.15L1379.88 239.10L1381.44 239.05L1383.00 239.00L1384.56 238.95L1386.12 238.91L1387.69 238.87L1389.25 238.83L1390.81 238.80L1392.38 238.76L1393.94 238.73L1395.50 238.70L1397.06 238.66L1398.62 238.63L1400.19 238.60L1401.75 238.56L1403.31 238.52L1404.88 238.48L1406.44 238.44L1408.00 238.40L1409.56 238.35L1411.12 238.30L1412.69 238.25L1414.25 238.19L1415.81 238.13L1417.38 238.07L1418.94 238.00L1420.50 237.94L1422.06 237.88L1423.62 237.82L1425.19 237.76L1426.75 237.70L1428.31 237.64L1429.88 237.59L1431.44 237.54L1433.00 237.50L1434.56 237.46L1436.12 237.43L1437.69 237.39L1439.25 237.36L1440.81 237.33L1442.38 237.31L1443.94 237.28L1445.50 237.25L1447.06 237.23L1448.62 237.20L1450.19 237.17L1451.75 237.14L1453.31 237.11L1454.88 237.08L1456.44 237.04L1458.00 237.00L1459.56 236.95L1461.12 236.90L1462.69 236.84L1464.25 236.78L1465.81 236.71L1467.38 236.64L1468.94 236.57L1470.50 236.50L1472.06 236.43L1473.62 236.36L1475.19 236.29L1476.75 236.22L1478.31 236.16L1479.88 236.10L1481.44 236.05L1483.00 236.00L1484.56 235.96L1486.12 235.92L1487.69 235.88L1489.25 235.84L1490.81 235.80L1492.38 235.76L1493.94 235.73L1495.50 235.69L1497.06 235.66L1498.62 235.63L1500.19 235.60L1501.75 235.57L1503.31 235.55L1504.88 235.53L1506.44 235.51L1508.00 235.50L1509.50 235.49L1511.00 235.48L1512.50 235.47L1514.00 235.46L1515.50 235.45L1517.00 235.44L1518.50 235.43L1520.00 235.43L1521.50 235.42L1523.00 235.41L1524.50 235.41L1526.00 235.40L1527.50 235.39L1529.00 235.39L1530.50 235.38L1532.00 235.38L1533.50 235.37L1535.00 235.37L1536.50 235.37L1538.00 235.36L1539.50 235.36L1541.00 235.35L1542.50 235.35L1544.00 235.35L1545.50 235.34L1547.00 235.34L1548.50 235.34L1550.00 235.33L1551.50 235.33L1553.00 235.32L1554.50 235.32L1556.00 235.32L1557.50 235.31L1559.00 235.31L1560.50 235.30L1562.00 235.30L1563.50 235.29L1565.00 235.28L1566.50 235.28L1568.00 235.27L1569.50 235.26L1571.00 235.26L1572.50 235.25L1574.00 235.24L1575.50 235.23L1577.00 235.22L1578.50 235.21L1580.00 235.20L1581.52 235.19L1583.03 235.17L1584.55 235.15L1586.06 235.12L1587.58 235.10L1589.09 235.07L1590.61 235.03L1592.12 235.00L1593.64 234.96L1595.15 234.92L1596.67 234.88L1598.18 234.83L1599.70 234.79L1601.21 234.74L1602.73 234.70L1604.24 234.65L1605.76 234.60L1607.27 234.55L1608.79 234.51L1610.30 234.46L1611.82 234.41L1613.33 234.37L1614.85 234.32L1616.36 234.28L1617.88 234.24L1619.39 234.20L1620.91 234.16L1622.42 234.13L1623.94 234.10L1625.45 234.07L1626.97 234.04L1628.48 234.02L1630.00 234.00L1631.52 233.98L1633.04 233.97L1634.57 233.95L1636.09 233.93L1637.61 233.91L1639.13 233.90L1640.65 233.88L1642.17 233.87L1643.70 233.85L1645.22 233.83L1646.74 233.82L1648.26 233.80L1649.78 233.79L1651.30 233.77L1652.83 233.76L1654.35 233.74L1655.87 233.73L1657.39 233.72L1658.91 233.70L1660.43 233.69L1661.96 233.68L1663.48 233.66L1665.00 233.65L1666.52 233.64L1668.04 233.63L1669.57 233.62L1671.09 233.61L1672.61 233.60L1674.13 233.59L1675.65 233.58L1677.17 233.57L1678.70 233.56L1680.22 233.55L1681.74 233.54L1683.26 233.54L1684.78 233.53L1686.30 233.53L1687.83 233.52L1689.35 233.52L1690.87 233.51L1692.39 233.51L1693.91 233.51L1695.43 233.50L1696.96 233.50L1698.48 233.50L1700.00 233.50L1701.51 233.50L1703.02 233.50L1704.53 233.50L1706.04 233.50L1707.55 233.50L1709.05 233.50L1710.56 233.50L1712.07 233.50L1713.58 233.50L1715.09 233.50L1716.60 233.50L1718.11 233.50L1719.62 233.50L1721.13 233.50L1722.64 233.50L1724.15 233.50L1725.65 233.50L1727.16 233.50L1728.67 233.50L1730.18 233.50L1731.69 233.50L1733.20 233.50L1734.71 233.50L1736.22 233.50L1737.73 233.50L1739.24 233.50L1740.75 233.50L1742.25 233.50L1743.76 233.50L1745.27 233.50L1746.78 233.50L1748.29 233.50L1749.80 233.50L1751.31 233.50L1752.82 233.50L1754.33 233.50L1755.84 233.50L1757.35 233.50L1758.85 233.50L1760.36 233.50L1761.87 233.50L1763.38 233.50L1764.89 233.50L1766.40 233.50L1767.91 233.50L1769.42 233.50L1770.93 233.50L1772.44 233.50L1773.95 233.50L1775.45 233.50L1776.96 233.50L1778.47 233.50L1779.98 233.50L1781.49 233.50L1783.00 233.50L1784.51 233.50L1786.02 233.50L1787.53 233.50L1789.04 233.50L1790.55 233.50L1792.05 233.50L1793.56 233.50L1795.07 233.50L1796.58 233.50L1798.09 233.50L1799.60 233.50L1801.11 233.50L1802.62 233.50L1804.13 233.50L1805.64 233.50L1807.15 233.50L1808.65 233.50L1810.16 233.50L1811.67 233.50L1813.18 233.50L1814.69 233.50L1816.20 233.50L1817.71 233.50L1819.22 233.50L1820.73 233.50L1822.24 233.50L1823.75 233.50L1825.25 233.50L1826.76 233.50L1828.27 233.50L1829.78 233.50L1831.29 233.50L1832.80 233.50L1834.31 233.50L1835.82 233.50L1837.33 233.50L1838.84 233.50L1840.35 233.50L1841.85 233.50L1843.36 233.50L1844.87 233.50L1846.38 233.50L1847.89 233.50L1849.40 233.50L1850.91 233.50L1852.42 233.50L1853.93 233.50L1855.44 233.50L1856.95 233.50L1858.45 233.50L1859.96 233.50L1861.47 233.50L1862.98 233.50L1864.49 233.50L1866.00 233.50L1867.51 233.50L1869.02 233.50L1870.53 233.50L1872.04 233.50L1873.55 233.50L1875.05 233.50L1876.56 233.50L1878.07 233.50L1879.58 233.50L1881.09 233.50L1882.60 233.50L1884.11 233.50L1885.62 233.50L1887.13 233.50L1888.64 233.50L1890.15 233.50L1891.65 233.50L1893.16 233.50L1894.67 233.50L1896.18 233.50L1897.69 233.50L1899.20 233.50L1900.71 233.50L1902.22 233.50L1903.73 233.50L1905.24 233.50L1906.75 233.50L1908.25 233.50L1909.76 233.50L1911.27 233.50L1912.78 233.50L1914.29 233.50L1915.80 233.50L1917.31 233.50L1918.82 233.50L1920.33 233.50L1921.84 233.50L1923.35 233.50L1924.85 233.50L1926.36 233.50L1927.87 233.50L1929.38 233.50L1930.89 233.50L1932.40 233.50" stroke="#000" stroke-width="12" stroke-dasharray="12 13" fill="none"/>
<path d="M236.4 246.8H1932.4M236.4 396.6H1932.4" stroke="#ff00ff" stroke-width="13" fill="none"/>
</g>
<ellipse cx="1544.9" cy="243" rx="54.7" ry="94.1" stroke="#262626" stroke-width="2.2" fill="none"/>
<ellipse cx="1747.6" cy="396" rx="85" ry="90.5" stroke="#262626" stroke-width="2.2" fill="none"/>
<path d="M1194.5 184.1L1467.0 191.1" stroke="#262626" stroke-width="2.4" fill="none"/><path d="M1504.0 192.1L1451.5 210.2L1467.0 191.1L1452.5 171.3Z" fill="#000"/>
<path d="M1600.7 706.6L1716.5 523.2" stroke="#262626" stroke-width="2.4" fill="none"/><path d="M1736.3 491.9L1725.0 546.3L1716.5 523.2L1692.0 525.5Z" fill="#000"/>
<text transform="matrix(0.54366 0.00000 0.00000 0.54366 217.78 1538.06)" font-size="100" fill="#262626" style="font-family:'Liberation Sans',Arial,sans-serif">0</text>
<text transform="matrix(0.55143 0.00000 0.00000 0.55143 387.34 1538.05)" font-size="100" fill="#262626" style="font-family:'Liberation Sans',Arial,sans-serif">5</text>
<text transform="matrix(0.54366 0.00000 0.00000 0.54366 545.53 1538.06)" font-size="100" fill="#262626" style="font-family:'Liberation Sans',Arial,sans-serif">10</text>
<text transform="matrix(0.55143 0.00000 0.00000 0.55143 714.60 1538.05)" font-size="100" fill="#262626" style="font-family:'Liberation Sans',Arial,sans-serif">15</text>
<text transform="matrix(0.54366 0.00000 0.00000 0.54366 884.05 1538.06)" font-size="100" fill="#262626" style="font-family:'Liberation Sans',Arial,sans-serif">20</text>
<text transform="matrix(0.54366 0.00000 0.00000 0.54366 1052.75 1538.06)" font-size="100" fill="#262626" style="font-family:'Liberation Sans',Arial,sans-serif">25</text>
<text transform="matrix(0.54366 0.00000 0.00000 0.54366 1225.33 1538.06)" font-size="100" fill="#262626" style="font-family:'Liberation Sans',Arial,sans-serif">30</text>
<text transform="matrix(0.54366 0.00000 0.00000 0.54366 1394.93 1538.06)" font-size="100" fill="#262626" style="font-family:'Liberation Sans',Arial,sans-serif">35</text>
<text transform="matrix(0.54366 0.00000 0.00000 0.54366 1561.57 1538.06)" font-size="100" fill="#262626" style="font-family:'Liberation Sans',Arial,sans-serif">40</text>
<text transform="matrix(0.54366 0.00000 0.00000 0.54366 1735.22 1538.06)" font-size="100" fill="#262626" style="font-family:'Liberation Sans',Arial,sans-serif">45</text>
<text transform="matrix(0.54366 0.00000 0.00000 0.54366 1904.78 1538.06)" font-size="100" fill="#262626" style="font-family:'Liberation Sans',Arial,sans-serif">50</text>
<text transform="matrix(0.51408 0.00000 0.00000 0.51408 180.77 1483.99)" font-size="100" fill="#262626" style="font-family:'Liberation Sans',Arial,sans-serif">0</text>
<text transform="matrix(0.53803 0.00000 0.00000 0.53803 107.07 1334.16)" font-size="100" fill="#262626" style="font-family:'Liberation Sans',Arial,sans-serif">0.02</text>
<text transform="matrix(0.52394 0.00000 0.00000 0.52394 108.70 1186.88)" font-size="100" fill="#262626" style="font-family:'Liberation Sans',Arial,sans-serif">0.04</text>
<text transform="matrix(0.51972 0.00000 0.00000 0.51972 110.55 1036.28)" font-size="100" fill="#262626" style="font-family:'Liberation Sans',Arial,sans-serif">0.06</text>
<text transform="matrix(0.51972 0.00000 0.00000 0.51972 110.55 888.98)" font-size="100" fill="#262626" style="font-family:'Liberation Sans',Arial,sans-serif">0.08</text>
<text transform="matrix(0.53239 0.00000 0.00000 0.53239 137.57 739.27)" font-size="100" fill="#262626" style="font-family:'Liberation Sans',Arial,sans-serif">0.1</text>
<text transform="matrix(0.51972 0.00000 0.00000 0.51972 110.55 591.68)" font-size="100" fill="#262626" style="font-family:'Liberation Sans',Arial,sans-serif">0.12</text>
<text transform="matrix(0.51972 0.00000 0.00000 0.51972 109.51 441.28)" font-size="100" fill="#262626" style="font-family:'Liberation Sans',Arial,sans-serif">0.14</text>
<text transform="matrix(0.52394 0.00000 0.00000 0.52394 109.75 294.08)" font-size="100" fill="#262626" style="font-family:'Liberation Sans',Arial,sans-serif">0.16</text>
<text transform="matrix(0.53521 0.00000 0.00000 0.53521 107.61 144.06)" font-size="100" fill="#262626" style="font-family:'Liberation Sans',Arial,sans-serif">0.18</text>
<text transform="matrix(0.53343 0.00000 0.00000 0.51383 815.73 205.41)" font-size="100" fill="#262626" style="font-family:'Liberation Sans',Arial,sans-serif">MRC Technique</text>
<text transform="matrix(0.53322 0.00000 0.00000 0.53191 1269.53 761.03)" font-size="100" fill="#262626" style="font-family:'Liberation Sans',Arial,sans-serif">SC Technique</text>
<text transform="matrix(0.50541 0.00000 0.00000 0.60909 1001.50 1612.59)" font-size="100" fill="#262626" style="font-family:'Liberation Serif','Times New Roman',serif">&#936;</text>
<text transform="matrix(0.59379 0.00000 0.00000 0.56170 1060.64 1614.00)" font-size="100" fill="#262626" style="font-family:'Liberation Sans',Arial,sans-serif">(dB)</text>
<text transform="matrix(0.00000 -0.57521 0.56277 0.00000 78.58 1101.98)" font-size="100" fill="#262626" style="font-family:'Liberation Sans',Arial,sans-serif">Intercept Probability (IP)</text>
<text transform="matrix(0.57292 0.00000 0.00000 0.58286 502.79 72.02)" font-size="100" fill="#000" style="font-family:'Liberation Sans',Arial,sans-serif;font-weight:bold">IP versus</text>
<text transform="matrix(0.55135 0.00000 0.00000 0.61364 779.00 71.69)" font-size="100" fill="#000" style="font-family:'Liberation Serif','Times New Roman',serif">&#936;</text>
<text transform="matrix(0.56700 0.00000 0.00000 0.55135 842.10 72.05)" font-size="100" fill="#000" style="font-family:'Liberation Sans',Arial,sans-serif;font-weight:bold">with C</text>
<text transform="matrix(0.46897 0.00000 0.00000 0.45946 1016.83 100.24)" font-size="100" fill="#000" style="font-family:'Liberation Sans',Arial,sans-serif;font-weight:bold">th</text>
<text transform="matrix(0.57594 0.00000 0.00000 0.55213 1059.60 72.11)" font-size="100" fill="#000" style="font-family:'Liberation Sans',Arial,sans-serif;font-weight:bold">=0.5 bps/Hz and</text>
<text transform="matrix(0.71923 0.00000 0.00000 0.57582 1512.84 72.41)" font-size="100" fill="#000" style="font-family:'Liberation Serif','Times New Roman',serif;font-style:italic">&#946;</text>
<text transform="matrix(0.57016 0.00000 0.00000 0.57465 1548.22 72.03)" font-size="100" fill="#000" style="font-family:'Liberation Sans',Arial,sans-serif;font-weight:bold">=0.5</text>
<rect x="1177.3" y="1195.1" width="689.4" height="207.1" fill="#fff" stroke="#262626" stroke-width="2.4"/>
<path d="M1272.4 1200.0L1295.4 1232.5L1272.4 1265.0L1249.4 1232.5ZM1272.4 1223.5L1266.2 1232.5L1272.4 1241.5L1278.6 1232.5Z" fill="#0000ff" />
<path d="M1192.4 1299H1350.9" stroke="#ff00ff" stroke-width="13"/>
<path d="M1192.4 1364.6H1350.9" stroke="#000" stroke-width="12" stroke-dasharray="12 13"/>
<text transform="matrix(0.46779 0.00000 0.00000 0.45638 1361.40 1252.62)" font-size="100" fill="#262626" style="font-family:'Liberation Sans',Arial,sans-serif">Analysis-Exact</text>
<text transform="matrix(0.47016 0.00000 0.00000 0.45638 1361.40 1315.62)" font-size="100" fill="#262626" style="font-family:'Liberation Sans',Arial,sans-serif">Asymptotic</text>
<text transform="matrix(0.46981 0.00000 0.00000 0.45676 1360.54 1380.84)" font-size="100" fill="#262626" style="font-family:'Liberation Sans',Arial,sans-serif">Monte-Carlo Simulation</text>
</svg></body></html>
